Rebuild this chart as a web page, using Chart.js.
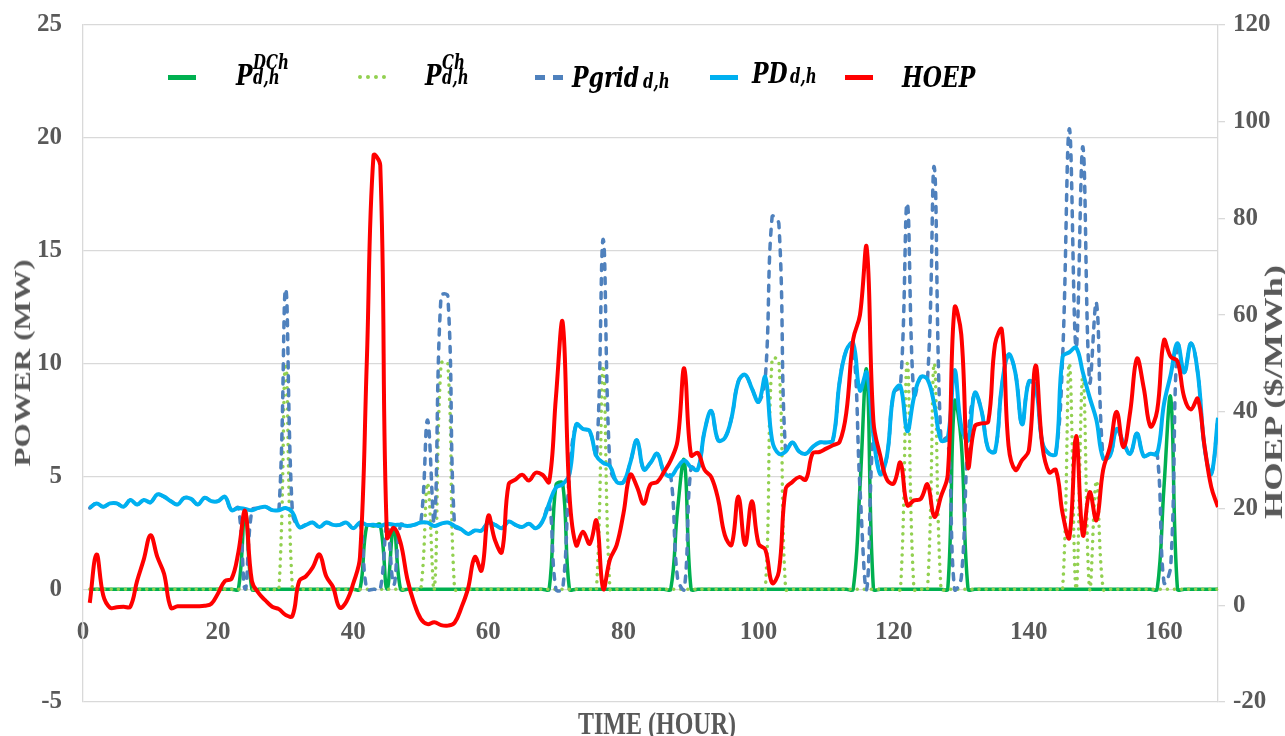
<!DOCTYPE html>
<html>
<head>
<meta charset="utf-8">
<title>Power and HOEP over one week</title>
<script src="https://cdn.jsdelivr.net/npm/chart.js@4.4.1/dist/chart.umd.min.js"></script>
<style>
  html, body { margin: 0; padding: 0; background: #ffffff; }
  #wrap { position: relative; width: 1285px; height: 736px; overflow: hidden; }
  #chart { position: absolute; left: 0; top: 0; }
  .title {
    position: absolute; white-space: nowrap; line-height: 1;
    font-family: "Liberation Serif", "Times New Roman", serif;
    font-weight: bold; font-size: 24px; color: #595959;
  }
  .lg {
    position: absolute; white-space: nowrap; line-height: 1;
    font-family: "DejaVu Serif", "Liberation Serif", serif;
    font-weight: bold; font-style: italic; color: #000000;
    transform: scaleY(1.3); transform-origin: 0 0;
  }
  .main { font-size: 22px; }
  .small { font-size: 15px; }
  .swatch { position: absolute; width: 28px; height: 0; }
</style>
</head>
<body>
<div id="wrap">
  <canvas id="chart" width="1285" height="736"></canvas>

  <!-- axis titles -->
  <div class="title" style="left:22px; top:363px; transform:translate(-50%,-50%) rotate(-90deg) scaleX(1.3);">POWER (MW)</div>
  <div class="title" style="left:1274px; top:392px; font-size:26px; transform:translate(-50%,-50%) rotate(-90deg) scaleX(1.4);">HOEP ($/MWh)</div>
  <div class="title" style="left:657px; top:724px; transform:translate(-50%,-50%) scaleY(1.3);">TIME (HOUR)</div>

  <!-- legend -->
  <div class="swatch" style="left:168px; top:75px; border-top:5px solid #00b050;"></div>
  <div class="lg main"  style="left:236px; top:60px;">P</div>
  <div class="lg small" style="left:253px; top:53px;">DCh</div>
  <div class="lg small" style="left:253px; top:68px;">d,h</div>

  <div class="swatch" style="left:358px; top:75px; border-top:4px dotted #92d050;"></div>
  <div class="lg main"  style="left:425px; top:60px;">P</div>
  <div class="lg small" style="left:442px; top:53px;">Ch</div>
  <div class="lg small" style="left:442px; top:68px;">d,h</div>

  <div class="swatch" style="left:535px; top:75px; border-top:5px dashed #4f81bd;"></div>
  <div class="lg main"  style="left:572px; top:62px;">Pgrid</div>
  <div class="lg small" style="left:643px; top:72px;">d,h</div>

  <div class="swatch" style="left:710px; top:75px; border-top:5px solid #00b0f0;"></div>
  <div class="lg main"  style="left:752px; top:58px;">PD</div>
  <div class="lg small" style="left:790px; top:67px;">d,h</div>

  <div class="swatch" style="left:845px; top:75px; border-top:5px solid #ff0000;"></div>
  <div class="lg main"  style="left:902px; top:62px;">HOEP</div>
</div>

<script>
// Hour of the week (x values)
const hours = Array.from({ length: 168 }, (_, i) => i + 1);

// Tick labels
const xTicks = [0, 20, 40, 60, 80, 100, 120, 140, 160];
const powerTicks = [-5, 0, 5, 10, 15, 20, 25];
const priceTicks = [-20, 0, 20, 40, 60, 80, 100, 120];

// Storage discharging power (MW), one row per day
const pDCh = [
  0,0,0,0,0,0,0,0,0,0,0,0,0,0,0,0,0,0,0,0,0,0,0,3.5,
  0,0,0,0,0,0,0,0,0,0,0,0,0,0,0,0,0,2.8,2.8,2.85,0,2.8,0,0,
  0,0,0,0,0,0,0,0,0,0,0,0,0,0,0,0,0,0,0,0,0,4.6,4.7,0,
  0,0,0,0,0,0,0,0,0,0,0,0,0,0,0,3.5,5.7,0,0,0,0,0,0,0,
  0,0,0,0,0,0,0,0,0,0,0,0,0,0,0,0,0,0,4.5,9.7,0,0,0,0,
  0,0,0,0,0,0,0,0,8.3,6.5,0,0,0,0,0,0,0,0,0,0,0,0,0,0,
  0,0,0,0,0,0,0,0,0,0,0,0,0,0,0,4.5,8.5,0,0,0,0,0,0,0
];

// Storage charging power (MW)
const pCh = [
  0,0,0,0,0,0,0,0,0,0,0,0,0,0,0,0,0,0,0,0,0,0,0,0,
  0,0,0,0,0,10,0,0,0,0,0,0,0,0,0,0,0,0,0,0,0,0,0,0,
  0,0,4.7,0,10,10,0,0,0,0,0,0,0,0,0,0,0,0,0,0,0,0,0,0,
  0,0,0,0,9.9,0,0,0,0,0,0,0,0,0,0,0,0,0,0,0,0,0,0,0,
  0,0,0,0,0,10.2,10.1,0,0,0,0,0,0,0,0,0,0,0,0,0,0,0,0,0,
  0,10,0,0,0,10,0,0,0,0,0,0,0,0,0,0,0,0,0,0,0,0,0,0,
  0,10,0,9.5,0,4.8,0,0,0,0,0,0,0,0,0,0,0,0,0,0,0,0,0,0
];

// Power drawn from the grid (MW)
const pGrid = [
  3.6,3.8,3.65,3.8,3.8,3.65,3.95,3.75,3.95,3.85,4.2,4.1,3.9,3.75,4.05,4.0,3.75,4.05,3.9,3.9,4.1,3.5,3.6,0,
  3.5,3.6,3.65,3.5,3.5,13.3,3.4,2.75,2.85,2.95,2.75,2.95,2.85,2.85,2.95,2.7,2.95,0,0,0,2.9,0.2,2.85,2.8,
  2.85,2.95,7.5,3.0,13.0,13.0,2.8,2.65,2.45,2.6,2.6,2.95,2.85,2.7,3.0,2.85,2.75,2.9,2.7,3.0,3.8,0,0,5.1,
  7.3,7.1,7.0,5.9,15.5,5.45,4.75,4.75,5.6,6.6,5.3,5.6,6.0,5.2,5.0,0.5,0,5.4,5.3,7.0,7.9,6.6,6.7,7.6,
  9.2,9.5,8.9,8.3,9.4,16.5,16.2,6.1,6.5,6.1,6.0,6.3,6.5,6.5,6.6,9.2,10.6,10.9,4.5,0,6.8,5.1,5.9,8.7,
  9.0,17.1,8.5,9.4,9.3,18.7,6.6,6.7,0,0.5,6.6,8.7,7.9,6.2,6.1,9.0,10.4,9.6,7.3,9.2,9.0,6.5,6.0,6.0,
  10.3,20.4,10.7,19.6,9.2,12.7,5.8,5.9,7.1,6.5,6.0,6.9,5.9,6.0,6.0,0.3,1.0,10.9,9.6,10.9,9.6,6.3,5.1,7.6
];

// Demand (MW)
const pDemand = [
  3.6,3.8,3.65,3.8,3.8,3.65,3.95,3.75,3.95,3.85,4.2,4.1,3.9,3.75,4.05,4.0,3.75,4.05,3.9,3.9,4.1,3.5,3.6,3.55,
  3.5,3.6,3.65,3.5,3.5,3.6,3.4,2.75,2.85,2.95,2.75,2.95,2.85,2.85,2.95,2.7,2.95,2.85,2.85,2.8,2.9,2.85,2.85,2.8,
  2.85,2.95,2.95,2.8,2.9,2.95,2.8,2.65,2.45,2.6,2.6,2.95,2.85,2.7,3.0,2.85,2.75,2.9,2.7,3.0,3.8,4.5,4.65,5.1,
  7.3,7.1,7.0,5.9,5.6,5.45,4.75,4.75,5.6,6.6,5.3,5.6,6.0,5.2,5.0,5.4,5.7,5.4,5.3,7.0,7.9,6.6,6.7,7.6,
  9.2,9.5,8.9,8.3,9.4,6.6,6.0,6.1,6.5,6.1,6.0,6.3,6.5,6.5,6.6,9.2,10.6,10.9,8.8,9.6,6.8,5.1,5.9,8.7,
  9.0,7.0,8.5,9.4,9.3,8.2,6.6,6.7,9.7,7.2,6.6,8.7,7.9,6.2,6.1,9.0,10.4,9.6,7.3,9.2,9.0,6.5,6.0,6.0,
  10.3,10.5,10.7,9.6,8.5,7.5,5.8,5.9,7.1,6.5,6.0,6.9,5.9,6.0,6.0,8.2,9.5,10.9,9.6,10.9,9.6,6.3,5.1,7.6
];

// Hourly Ontario energy price ($/MWh)
const hoep = [
  0.5,10.5,2,-0.5,-0.4,-0.3,-0.3,5,9.5,14.5,10,6.5,-0.5,-0.2,-0.2,-0.2,-0.2,-0.1,0.3,2.5,5,5.5,11,19.5,
  5,2.5,1,-0.3,-0.8,-2,-2.2,5,6,7.8,10.5,6,3.8,-0.5,0.8,4.5,10,50,93,91,14,16,13,5.5,
  0.5,-2.8,-3.9,-3.5,-4.1,-4.2,-3.6,-0.5,3.5,10,7.2,18.5,13.4,11,25,26,27,25.8,27.4,27,25.5,43,58.5,23,
  12.4,15.2,12.7,17.5,3.4,9.5,12.5,19,27,24.5,21,25,25.5,27.6,30,34,49,31,31.5,28,26.5,22,14.5,12.5,
  22.5,12.5,21.5,12.7,11.5,4.6,7,24,25.5,26.5,26,31.4,31.7,32.4,33.1,33.8,40,55,60,74,38,31,26,25.2,
  29.5,20.7,21.7,22,25,18.3,22.5,27,61.5,56,28.6,37,37.6,38,54,57,33,28,30,32,49.6,33,27.5,28,
  19,14,35,14.5,23.4,17.6,28,32.7,40,32.7,40,51,45,37,40.3,54.8,51.4,50.5,43,40.5,42.7,33,24.5,20.3
];

const toPoints = values => values.map((v, i) => ({ x: hours[i], y: v }));

const tickFont = { family: '"Liberation Serif", "Times New Roman", serif', size: 25, weight: 'bold' };
const gridGray = '#d9d9d9';
const tickGray = '#595959';
const clear = 'rgba(0,0,0,0)';

new Chart(document.getElementById('chart'), {
  type: 'line',
  data: {
    datasets: [
      {
        label: 'PDCh', data: toPoints(pDCh), yAxisID: 'y', order: 5,
        borderColor: '#00b050', borderWidth: 3.5, pointRadius: 0, tension: 0.4
      },
      {
        label: 'PCh', data: toPoints(pCh), yAxisID: 'y', order: 4,
        borderColor: '#92d050', borderWidth: 3.5, pointRadius: 0, tension: 0.4,
        borderDash: [0.1, 7], borderCapStyle: 'round'
      },
      {
        label: 'Pgrid', data: toPoints(pGrid), yAxisID: 'y', order: 3,
        borderColor: '#4f81bd', borderWidth: 3.5, pointRadius: 0, tension: 0.4,
        borderDash: [6, 8], borderCapStyle: 'round'
      },
      {
        label: 'PD', data: toPoints(pDemand), yAxisID: 'y', order: 2,
        borderColor: '#00b0f0', borderWidth: 4, pointRadius: 0, tension: 0.4
      },
      {
        label: 'HOEP', data: toPoints(hoep), yAxisID: 'y2', order: 1,
        borderColor: '#ff0000', borderWidth: 4, pointRadius: 0, tension: 0.4
      }
    ]
  },
  options: {
    responsive: false,
    animation: false,
    events: [],
    layout: { padding: { top: 25, bottom: 34, left: 0, right: 0 } },
    plugins: { legend: { display: false }, tooltip: { enabled: false }, title: { display: false } },
    scales: {
      x: {
        type: 'linear',
        position: { y: 0 },
        min: 0, max: 168,
        afterBuildTicks: s => { s.ticks = xTicks.map(v => ({ value: v })); },
        grid: { display: false },
        border: { display: true, color: gridGray },
        ticks: { padding: 20, color: tickGray, font: tickFont, maxRotation: 0, autoSkip: false }
      },
      y: {
        type: 'linear', position: 'left',
        min: -5, max: 25,
        afterBuildTicks: s => { s.ticks = powerTicks.map(v => ({ value: v })); },
        afterFit: s => { s.width = 83; },
        // invisible tick marks keep the labels clear of the axis
        grid: { color: gridGray, lineWidth: 1.3, drawTicks: true, tickLength: 18, tickColor: clear },
        border: { display: true, color: gridGray, width: 1.3 },
        ticks: { padding: 3, color: tickGray, font: tickFont }
      },
      y2: {
        type: 'linear', position: 'right',
        min: -20, max: 120,
        afterBuildTicks: s => { s.ticks = priceTicks.map(v => ({ value: v })); },
        afterFit: s => { s.width = 67; },
        grid: { drawOnChartArea: false, drawTicks: true, tickLength: 7, color: gridGray, lineWidth: 1.3 },
        border: { display: true, color: gridGray, width: 1.3 },
        ticks: { padding: 8, color: tickGray, font: tickFont }
      }
    }
  }
});
</script>
</body>
</html>
